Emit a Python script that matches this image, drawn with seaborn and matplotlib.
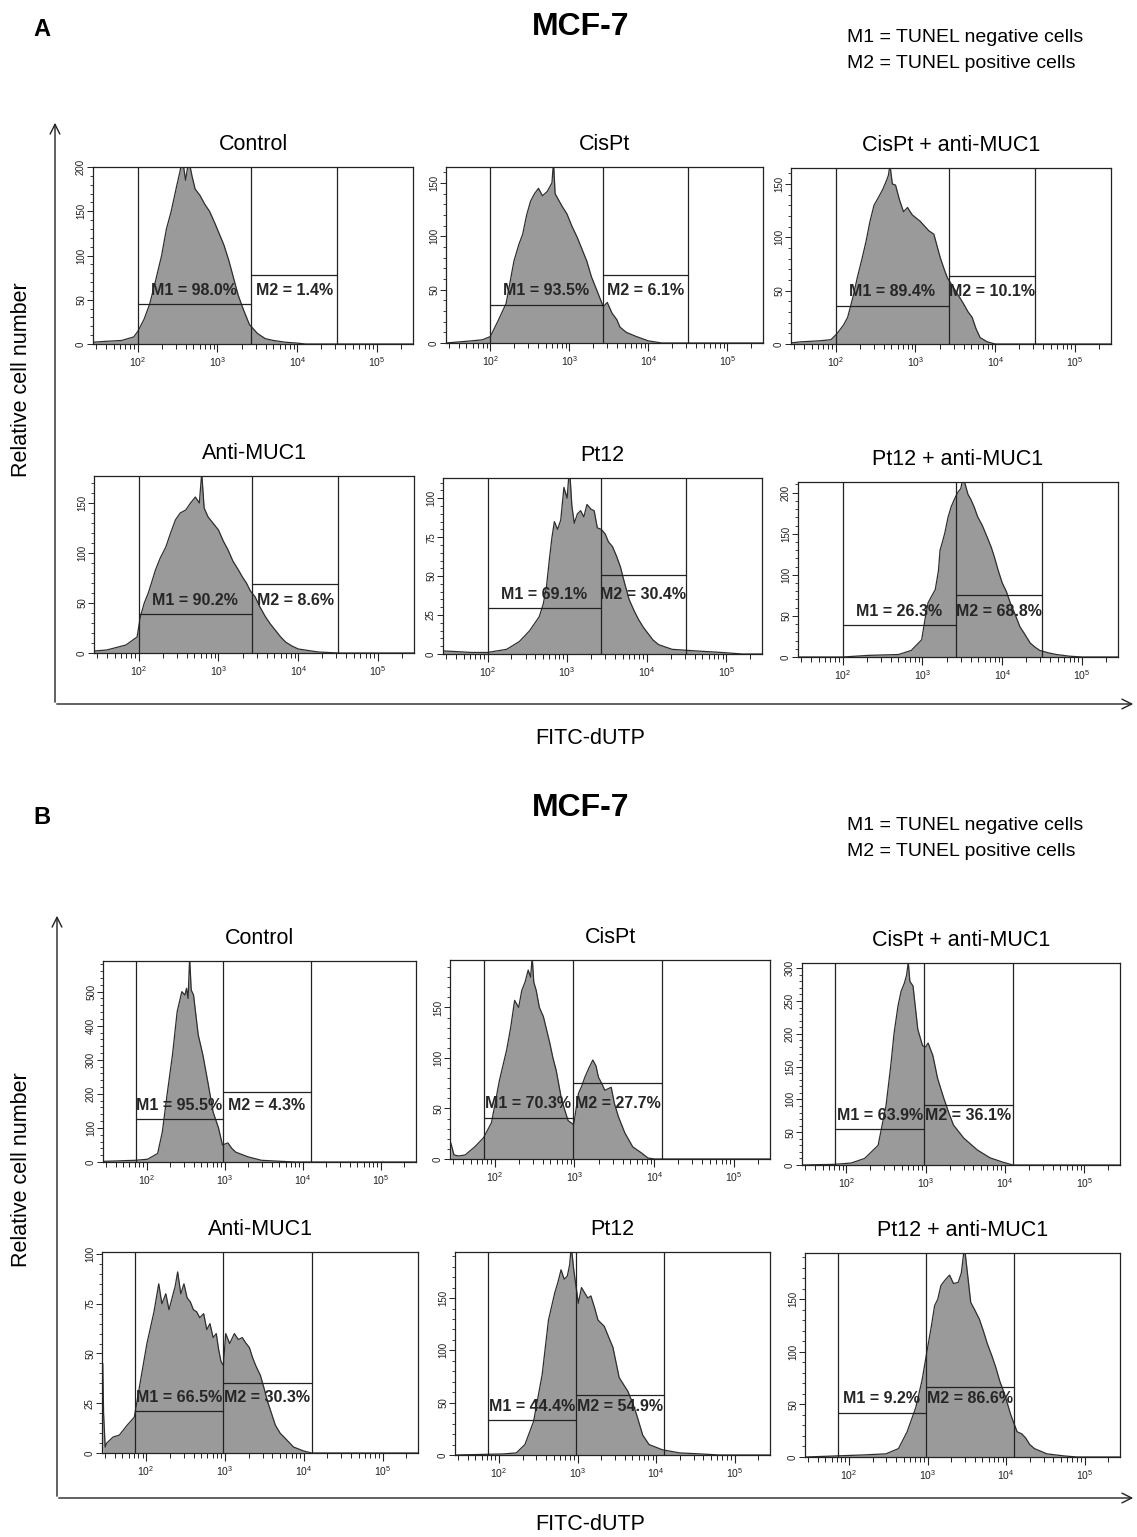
import numpy as np
import matplotlib
matplotlib.use("Agg")
import matplotlib.pyplot as plt
import seaborn as sns
from matplotlib.ticker import LogLocator, MultipleLocator, NullFormatter

# ------------------------------------------------------------------
# DATA: TUNEL histograms (x = log10 FITC, y = count)
# ------------------------------------------------------------------
titles = ["Control", "CisPt", "CisPt + anti-MUC1", "Anti-MUC1", "Pt12", "Pt12 + anti-MUC1"]

gates_a = [2.0, 3.42, 4.5]
gates_b = [1.86, 2.98, 4.1]

# panel A
a_control_x = [1.43, 1.6, 1.8, 1.95, 2.0, 2.08, 2.15, 2.22, 2.3, 2.36, 2.42, 2.48, 2.53, 2.56, 2.6, 2.64, 2.68,
               2.72, 2.78, 2.84, 2.9, 2.96, 3.02, 3.08, 3.14, 3.2, 3.26, 3.32, 3.4, 3.5, 3.6, 3.7, 3.85, 4.0, 4.1, 5.45]
a_control_y = [2, 3, 4, 8, 14, 28, 45, 70, 100, 130, 150, 175, 195, 210, 185, 208, 190,
               175, 168, 158, 150, 138, 125, 112, 95, 75, 55, 40, 22, 12, 6, 4, 2, 1, 0, 0]
a_cispt_x = [1.44, 1.6, 1.76, 1.9, 2.0, 2.1, 2.2, 2.3, 2.36, 2.41, 2.46, 2.51, 2.56, 2.61, 2.66, 2.72, 2.78, 2.8,
             2.82, 2.85, 2.91, 2.97, 3.03, 3.1, 3.16, 3.22, 3.28, 3.35, 3.43, 3.48, 3.54, 3.6, 3.64, 3.72, 3.85,
             4.0, 4.17, 5.45]
a_cispt_y = [0, 1, 2, 3, 6, 21, 37, 77, 92, 102, 120, 133, 140, 145, 138, 142, 150, 170,
             140, 136, 128, 121, 110, 99, 88, 77, 62, 49, 34, 38, 28, 22, 15, 10, 6,
             2, 0, 0]
a_cispt_anti_x = [1.44, 1.56, 1.8, 1.94, 2.02, 2.1, 2.15, 2.22, 2.27, 2.33, 2.38, 2.43, 2.48, 2.54, 2.59, 2.63,
                  2.66, 2.68, 2.71, 2.75, 2.8, 2.85, 2.9, 2.96, 3.01, 3.06, 3.12, 3.17, 3.23, 3.27, 3.31, 3.36,
                  3.4, 3.45, 3.5, 3.55, 3.6, 3.66, 3.71, 3.76, 3.81, 3.9, 4.0, 5.45]
a_cispt_anti_y = [1, 2, 3, 4, 10, 18, 25, 45, 62, 80, 96, 115, 130, 138, 145, 152,
                  158, 168, 150, 149, 135, 124, 128, 121, 118, 115, 110, 106, 103, 92, 81, 70,
                  62, 56, 50, 44, 38, 30, 25, 14, 6, 2, 0, 0]
a_anti_x = [1.44, 1.6, 1.84, 1.98, 2.02, 2.07, 2.12, 2.16, 2.21, 2.27, 2.34, 2.4, 2.46, 2.52, 2.59, 2.65, 2.71,
            2.76, 2.79, 2.82, 2.87, 2.93, 3.0, 3.06, 3.12, 3.18, 3.25, 3.3, 3.35, 3.4, 3.46, 3.52, 3.59, 3.65,
            3.71, 3.78, 3.84, 3.92, 4.0, 4.25, 4.5, 5.45]
a_anti_y = [2, 3, 8, 16, 36, 50, 60, 70, 83, 95, 106, 120, 133, 140, 143, 150, 156,
            150, 180, 145, 136, 130, 123, 112, 103, 92, 83, 76, 70, 62, 56, 46, 36, 29,
            23, 16, 11, 7, 4, 1, 0, 0]
a_pt12_x = [1.44, 1.8, 2.0, 2.24, 2.4, 2.53, 2.65, 2.7, 2.74, 2.78, 2.81, 2.84, 2.88, 2.92, 2.96, 3.0, 3.03,
            3.06, 3.09, 3.13, 3.17, 3.21, 3.25, 3.3, 3.34, 3.38, 3.43, 3.48, 3.52, 3.57, 3.62, 3.67, 3.72,
            3.78, 3.84, 3.9, 3.96, 4.02, 4.08, 4.15, 4.32, 4.61, 4.94, 5.2, 5.45]
a_pt12_y = [2, 1, 1, 3, 8, 15, 24, 32, 43, 62, 75, 85, 80, 86, 107, 100, 120,
            95, 84, 90, 92, 88, 96, 93, 92, 81, 80, 77, 72, 69, 63, 56, 46,
            35, 28, 22, 17, 13, 9, 6, 3, 2, 1, 0, 0]
a_pt12_anti_x = [1.44, 2.0, 2.33, 2.7, 2.86, 2.99, 3.03, 3.07, 3.12, 3.16, 3.2, 3.22, 3.25, 3.28, 3.32, 3.36,
                 3.4, 3.44, 3.48, 3.51, 3.53, 3.57, 3.61, 3.65, 3.69, 3.75, 3.81, 3.86, 3.9, 3.95, 4.0, 4.05,
                 4.1, 4.16, 4.22, 4.28, 4.35, 4.41, 4.47, 4.58, 4.68, 4.84, 5.0, 5.45]
a_pt12_anti_y = [0, 0, 2, 3, 8, 21, 45, 66, 75, 82, 105, 130, 140, 151, 170, 183,
                 192, 200, 205, 220, 212, 198, 191, 182, 171, 160, 146, 134, 122, 105, 90, 80,
                 66, 52, 37, 28, 17, 12, 8, 5, 3, 1, 0, 0]

# panel B
b_control_x = [1.45, 1.6, 1.85, 2.01, 2.14, 2.2, 2.26, 2.33, 2.39, 2.45, 2.49, 2.51, 2.53, 2.55, 2.57, 2.6,
               2.66, 2.72, 2.79, 2.85, 2.92, 2.97, 3.04, 3.09, 3.14, 3.3, 3.47, 3.72, 3.9, 5.45]
b_control_y = [2, 3, 5, 8, 25, 88, 196, 314, 441, 500, 490, 510, 480, 600, 505, 490,
               373, 314, 226, 147, 100, 50, 56, 40, 29, 15, 5, 2, 0, 0]
b_cispt_x = [1.45, 1.47, 1.49, 1.55, 1.63, 1.75, 1.86, 1.96, 2.06, 2.15, 2.2, 2.25, 2.3, 2.34, 2.38, 2.42,
             2.45, 2.47, 2.49, 2.52, 2.56, 2.61, 2.65, 2.69, 2.73, 2.77, 2.84, 2.92, 2.99, 3.05, 3.09, 3.13,
             3.18, 3.23, 3.27, 3.3, 3.34, 3.38, 3.46, 3.5, 3.55, 3.63, 3.73, 3.84, 3.92, 4.0, 5.45]
b_cispt_y = [16, 10, 4, 3, 4, 12, 21, 36, 78, 108, 130, 157, 150, 167, 175, 187,
             180, 200, 175, 167, 150, 141, 128, 115, 100, 88, 58, 38, 34, 65, 72, 81,
             90, 98, 92, 81, 75, 68, 71, 55, 42, 26, 12, 6, 1, 0, 0]
b_cispt_anti_x = [1.45, 1.85, 2.06, 2.23, 2.4, 2.5, 2.56, 2.6, 2.65, 2.69, 2.73, 2.76, 2.78, 2.8, 2.84, 2.9,
                  2.96, 3.0, 3.03, 3.09, 3.15, 3.23, 3.29, 3.35, 3.48, 3.65, 3.81, 3.98, 4.1, 5.45]
b_cispt_anti_y = [0, 1, 3, 10, 30, 91, 152, 200, 242, 265, 277, 290, 310, 280, 273, 207,
                  182, 180, 186, 167, 132, 101, 80, 61, 41, 23, 11, 4, 0, 0]
b_anti_x = [1.45, 1.46, 1.48, 1.5, 1.58, 1.66, 1.76, 1.85, 1.94, 2.01, 2.1, 2.13, 2.16, 2.2, 2.25, 2.29, 2.33,
            2.37, 2.4, 2.44, 2.48, 2.52, 2.56, 2.6, 2.64, 2.68, 2.73, 2.77, 2.81, 2.85, 2.89, 2.92, 2.95, 2.98,
            3.01, 3.06, 3.12, 3.17, 3.22, 3.27, 3.31, 3.35, 3.39, 3.45, 3.5, 3.54, 3.59, 3.64, 3.7, 3.75,
            3.87, 4.0, 4.1, 5.45]
b_anti_y = [45, 20, 3, 5, 8, 9, 14, 18, 39, 55, 71, 78, 85, 75, 80, 72, 78,
            84, 91, 80, 85, 78, 76, 72, 71, 68, 70, 62, 65, 58, 60, 52, 46, 44,
            60, 55, 60, 57, 58, 55, 53, 48, 44, 39, 32, 26, 20, 14, 10, 8,
            3, 1, 0, 0]
b_pt12_x = [1.45, 2.05, 2.22, 2.33, 2.44, 2.55, 2.63, 2.71, 2.75, 2.79, 2.83, 2.87, 2.9, 2.92, 2.95, 3.01,
            3.05, 3.09, 3.13, 3.17, 3.22, 3.26, 3.3, 3.34, 3.4, 3.45, 3.53, 3.58, 3.64, 3.7, 3.75, 3.83,
            3.91, 4.08, 4.3, 4.57, 4.8, 5.45]
b_pt12_y = [0, 1, 2, 10, 32, 77, 129, 155, 165, 177, 168, 171, 182, 200, 178, 145,
            160, 155, 150, 152, 140, 129, 126, 123, 112, 103, 74, 68, 61, 50, 39, 19,
            10, 5, 2, 1, 0, 0]
b_pt12_anti_x = [1.45, 2.2, 2.47, 2.63, 2.74, 2.85, 2.93, 3.01, 3.05, 3.09, 3.13, 3.17, 3.22, 3.28, 3.33,
                 3.39, 3.43, 3.47, 3.5, 3.55, 3.6, 3.66, 3.71, 3.76, 3.82, 3.87, 3.92, 3.98, 4.02, 4.06,
                 4.1, 4.14, 4.2, 4.25, 4.3, 4.36, 4.52, 4.74, 4.9, 5.45]
b_pt12_anti_y = [0, 2, 3, 8, 24, 47, 73, 108, 125, 144, 150, 163, 168, 173, 165,
                 166, 175, 200, 180, 147, 140, 131, 120, 108, 96, 85, 72, 60, 50, 40,
                 32, 24, 22, 18, 12, 8, 3, 1, 0, 0]

# y-axis top, major tick step, marker bar heights, marker percentages
a_ymax = [200, 165, 165, 177, 113, 213]
a_ystep = [50, 50, 50, 50, 25, 50]
a_m1_height = [45, 36, 36, 39, 29.5, 39]
a_m2_height = [78, 64, 64, 69, 51, 76]
a_m1_pct = [98.0, 93.5, 89.4, 90.2, 69.1, 26.3]
a_m2_pct = [1.4, 6.1, 10.1, 8.6, 30.4, 68.8]

b_ymax = [590, 197, 308, 101, 194, 194]
b_ystep = [100, 50, 50, 25, 50, 50]
b_m1_height = [126, 41, 55, 21, 33, 42]
b_m2_height = [206, 75, 91, 35, 57, 67]
b_m1_pct = [95.5, 70.3, 63.9, 66.5, 44.4, 9.2]
b_m2_pct = [4.3, 27.7, 36.1, 30.3, 54.9, 86.6]

a_curves = [(a_control_x, a_control_y), (a_cispt_x, a_cispt_y), (a_cispt_anti_x, a_cispt_anti_y),
            (a_anti_x, a_anti_y), (a_pt12_x, a_pt12_y), (a_pt12_anti_x, a_pt12_anti_y)]
b_curves = [(b_control_x, b_control_y), (b_cispt_x, b_cispt_y), (b_cispt_anti_x, b_cispt_anti_y),
            (b_anti_x, b_anti_y), (b_pt12_x, b_pt12_y), (b_pt12_anti_x, b_pt12_anti_y)]

# ------------------------------------------------------------------
# LAYOUT (pixel boxes: left, top, right, bottom)
# ------------------------------------------------------------------
W, H = 1137, 1537
a_boxes = [(93, 167, 413, 344), (446, 167, 763, 343), (791, 168, 1111, 344),
           (94, 476, 414, 653), (443, 478, 762, 654), (798, 482, 1118, 657)]
b_boxes = [(103, 961, 416, 1162), (450, 960, 770, 1159), (802, 963, 1120, 1165),
           (102, 1252, 418, 1453), (455, 1252, 770, 1455), (805, 1253, 1120, 1457)]

sns.set_style("white")
plt.rcParams['font.family'] = ['Liberation Sans', 'DejaVu Sans']
plt.rcParams['mathtext.fontset'] = 'custom'
plt.rcParams['mathtext.rm'] = 'Liberation Sans'
plt.rcParams['text.color'] = 'black'

FILL = '#9a9a9a'
EDGE = '#2e2e2e'
LINE = '#222222'

fig = plt.figure(figsize=(W / 100, H / 100), dpi=100)


def draw_panel(box, title, curve, gates, ymax, ystep, h1, h2, p1, p2):
    l, t, r, b = box
    ax = fig.add_axes([l / W, 1 - b / H, (r - l) / W, (b - t) / H])
    lx, cnt = curve
    xs = 10 ** np.array(lx, dtype=float)
    ax.fill_between(xs, cnt, color=FILL, lw=0, zorder=1)
    sns.lineplot(x=xs, y=cnt, ax=ax, color=EDGE, lw=0.9, estimator=None, sort=False, zorder=2)

    g0, g1, g2 = [10 ** g for g in gates]
    for g in (g0, g1, g2):
        ax.axvline(g, color=LINE, lw=0.9, zorder=3)
    ax.plot([g0, g1], [h1, h1], color=LINE, lw=0.9, zorder=3)
    ax.plot([g1, g2], [h2, h2], color=LINE, lw=0.9, zorder=3)

    c1 = 10 ** ((gates[0] + gates[1]) / 2)
    c2 = 10 ** ((gates[1] + gates[2]) / 2)
    for cx, txt in ((c1, f"M1 = {p1:.1f}%"), (c2, f"M2 = {p2:.1f}%")):
        ax.annotate(txt, xy=(cx, h1), xytext=(0, 10), textcoords='offset points',
                    ha='center', va='center', fontsize=11.5, fontweight='bold', color='#262626', zorder=4)

    ax.set_xscale('log')
    ax.set_xlim(10 ** 1.44, 10 ** 5.45)
    ax.set_ylim(0, ymax)
    ax.set_xticks([1e2, 1e3, 1e4, 1e5])
    ax.set_xticklabels([r'$10^2$', r'$10^3$', r'$10^4$', r'$10^5$'])
    ax.xaxis.set_minor_locator(LogLocator(base=10, subs=range(2, 10)))
    ax.xaxis.set_minor_formatter(NullFormatter())
    ax.yaxis.set_major_locator(MultipleLocator(ystep))
    ax.yaxis.set_minor_locator(MultipleLocator(ystep / 5))
    ax.tick_params(axis='x', which='major', direction='out', length=6, width=0.8, labelsize=7.5,
                   pad=2, colors='#222222', bottom=True)
    ax.tick_params(axis='x', which='minor', direction='out', length=3.5, width=0.7, bottom=True, colors='#222222')
    ax.tick_params(axis='y', which='major', direction='out', length=4, width=0.7, labelsize=7,
                   labelrotation=90, pad=1, colors='#222222', left=True)
    ax.tick_params(axis='y', which='minor', direction='out', length=2.5, width=0.6, left=True, colors='#222222')
    for lab in ax.get_yticklabels():
        lab.set_va('center')
    for s in ax.spines.values():
        s.set_color(LINE)
        s.set_linewidth(0.9)
    ax.set_xlabel('')
    ax.set_ylabel('')
    ax.set_title(title, fontsize=15.5, pad=12, color='black')
    return ax


for i in range(6):
    draw_panel(a_boxes[i], titles[i], a_curves[i], gates_a, a_ymax[i], a_ystep[i],
               a_m1_height[i], a_m2_height[i], a_m1_pct[i], a_m2_pct[i])
    draw_panel(b_boxes[i], titles[i], b_curves[i], gates_b, b_ymax[i], b_ystep[i],
               b_m1_height[i], b_m2_height[i], b_m1_pct[i], b_m2_pct[i])

# overlay in pixel coordinates for arrows and headings
ov = fig.add_axes([0, 0, 1, 1], zorder=-1)
ov.set_xlim(0, W)
ov.set_ylim(H, 0)
ov.axis('off')

arrow = dict(arrowstyle='->,head_length=0.7,head_width=0.35', color='#222222', lw=1.0)
for x0, ybase, ytop, label_y, xl_y, letter, letter_y, head_y, leg_y in [
        (55, 704, 120, 380, 738, 'A', 30, 27, 38),
        (57, 1498, 913, 1170, 1524, 'B', 817, 808, 826)]:
    ov.annotate('', xy=(x0, ytop), xytext=(x0, ybase + 1), arrowprops=arrow)
    ov.annotate('', xy=(1136, ybase), xytext=(x0 - 1, ybase), arrowprops=arrow)
    ov.text(22, label_y, 'Relative cell number', rotation=90, ha='center', va='center', fontsize=15.5)
    ov.text(590, xl_y, 'FITC-dUTP', ha='center', va='center', fontsize=15.5)
    ov.text(42, letter_y, letter, ha='center', va='center', fontsize=17, fontweight='bold')
    ov.text(581, head_y, 'MCF-7', ha='center', va='center', fontsize=23, fontweight='bold')
    ov.text(847, leg_y, 'M1 = TUNEL negative cells', ha='left', va='center', fontsize=14)
    ov.text(847, leg_y + 26, 'M2 = TUNEL positive cells', ha='left', va='center', fontsize=14)

fig.savefig('out.png', dpi=100, facecolor='white')
